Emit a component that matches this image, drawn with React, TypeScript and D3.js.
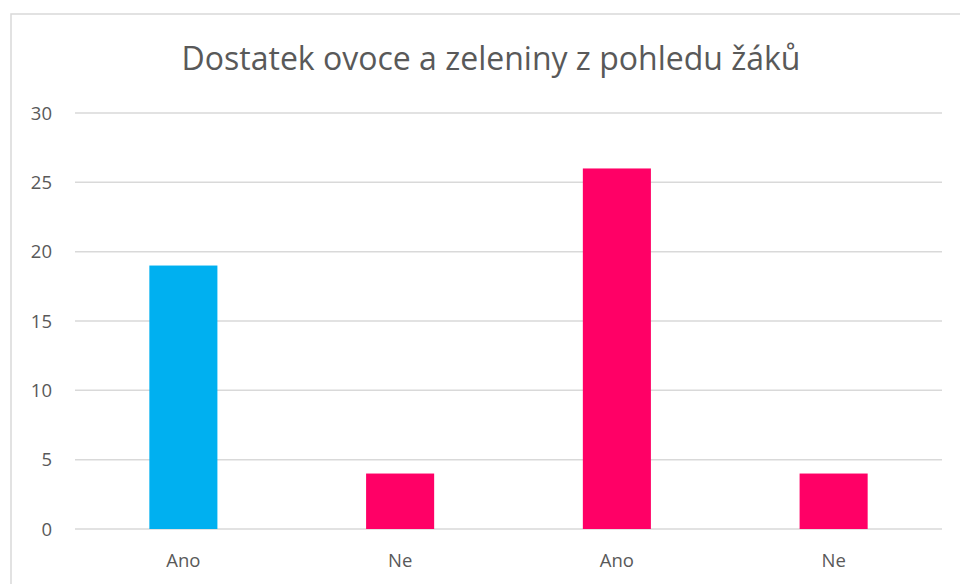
import React from "react";
import * as d3 from "d3";

const title = "Dostatek ovoce a zeleniny z pohledu žáků";
const categories = ["Ano", "Ne", "Ano ", "Ne "];
const labels = ["Ano", "Ne", "Ano", "Ne"];
const values = [19, 4, 26, 4];
const colors = ["#00B0F0", "#FF0066", "#FF0066", "#FF0066"];
const yTicks = [0, 5, 10, 15, 20, 25, 30];

export default function App() {
  const W = 960, H = 584;
  const x = d3.scaleBand<string>().domain(categories).range([75, 942]).paddingInner(0.686).paddingOuter(0.343);
  const y = d3.scaleLinear().domain([0, 30]).range([529, 113]);
  const font = "'Open Sans', 'Noto Sans', sans-serif";
  return (
    <svg width={W} height={H} style={{ position: "absolute", left: 0, top: 0, display: "block" }}>
      <rect x={0} y={0} width={W} height={H} fill="#fff" />
      <rect x={11} y={14} width={W + 20} height={H + 20} fill="#fff" stroke="#d9d9d9" strokeWidth={1.5} />
      <text x={491} y={70} textAnchor="middle" fontFamily={font} fontSize={32} fill="#595959">{title}</text>
      {yTicks.map(t => (
        <g key={t}>
          <line x1={75} x2={942} y1={y(t)} y2={y(t)} stroke="#d9d9d9" strokeWidth={1.5} />
          <text x={52} y={y(t)} dy="0.36em" textAnchor="end" fontFamily={font} fontSize={18.5} fill="#595959">{t}</text>
        </g>
      ))}
      {categories.map((c, i) => (
        <rect key={c} x={x(c)} y={y(values[i])} width={x.bandwidth()} height={y(0) - y(values[i])} fill={colors[i]} />
      ))}
      {categories.map((c, i) => (
        <text key={c} x={(x(c) as number) + x.bandwidth() / 2} y={567} textAnchor="middle" fontFamily={font} fontSize={18.5} fill="#595959">{labels[i]}</text>
      ))}
    </svg>
  );
}
